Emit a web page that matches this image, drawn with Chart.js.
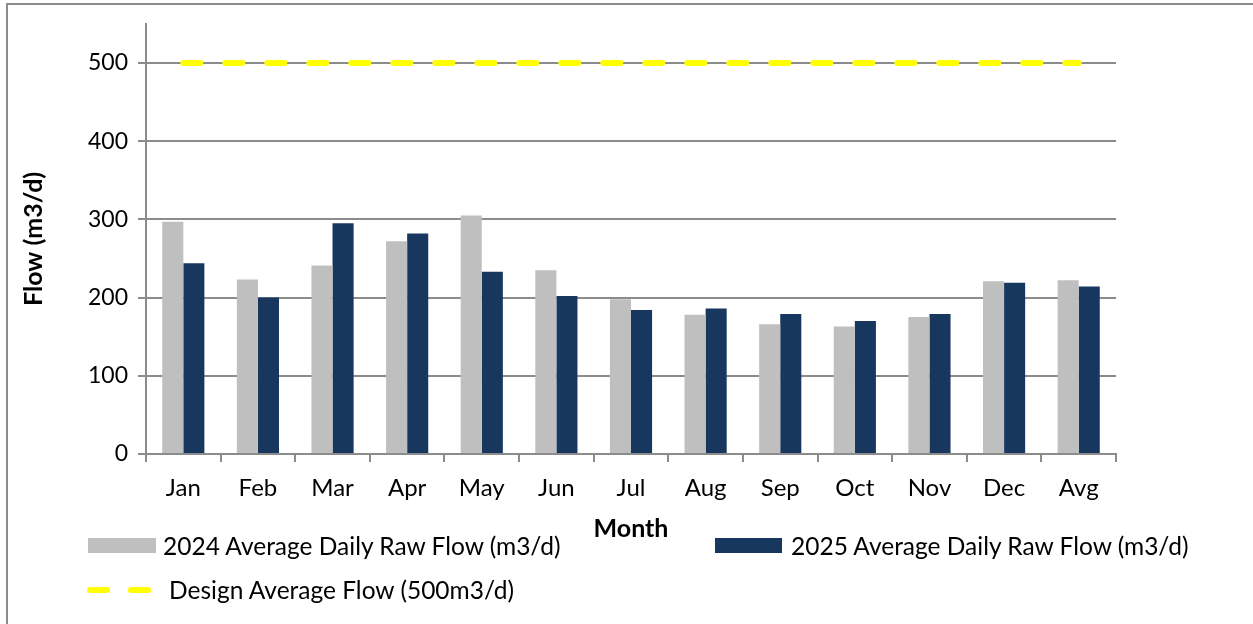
<!DOCTYPE html>
<html>
<head>
<meta charset="utf-8">
<script src="https://cdn.jsdelivr.net/npm/chart.js@4.4.1/dist/chart.umd.min.js"></script>
<style>
  html, body { margin: 0; padding: 0; background: #fff; }
  body { width: 1253px; height: 624px; position: relative; overflow: hidden; font-family: Lato, "Liberation Sans", sans-serif; }
  #frame { position: absolute; left: 6px; top: 3px; width: 1400px; height: 800px; border: 2px solid #8c8c8c; box-sizing: border-box; }
  #wrap { position: absolute; left: 0; top: 0; width: 1253px; height: 624px; }
  .lg { position: absolute; font-size: 24.5px; color: #000; line-height: 30px; white-space: nowrap; }
  .box { position: absolute; height: 15px; }
  .dash { position: absolute; width: 23px; height: 6px; border-radius: 3px; background: #FFFF00; }
</style>
</head>
<body>
<div id="frame"></div>
<div id="wrap"><canvas id="c" width="1253" height="624"></canvas></div>
<div class="box" style="left:88px;top:538px;width:68px;background:#BFBFBF"></div>
<div class="lg" id="l1" style="left:163px;top:531px"></div>
<div class="box" style="left:715px;top:538px;width:67px;background:#17375E"></div>
<div class="lg" id="l2" style="left:791px;top:531px"></div>
<div class="dash" style="left:87px;top:587px"></div>
<div class="dash" style="left:128px;top:587px"></div>
<div class="lg" id="l3" style="left:169px;top:575px"></div>
<script>
const categories = ["Jan","Feb","Mar","Apr","May","Jun","Jul","Aug","Sep","Oct","Nov","Dec","Avg"];
const flow2024 = [297, 223, 241, 272, 305, 235, 198, 178, 166, 163, 175, 221, 222];
const flow2025 = [244, 200, 295, 282, 233, 202, 184, 186, 179, 170, 179, 219, 214];
const designFlow = [500, 500, 500, 500, 500, 500, 500, 500, 500, 500, 500, 500, 500];
const seriesNames = ["2024 Average Daily Raw Flow (m3/d)", "2025 Average Daily Raw Flow (m3/d)", "Design Average Flow (500m3/d)"];
const yTicks = [0, 100, 200, 300, 400, 500];

document.getElementById('l1').textContent = seriesNames[0];
document.getElementById('l2').textContent = seriesNames[1];
document.getElementById('l3').textContent = seriesNames[2];

const FONT = "Lato, 'Liberation Sans', sans-serif";
const GRID = '#8c8c8c';

new Chart(document.getElementById('c'), {
  data: {
    labels: categories,
    datasets: [
      { type: 'line', label: seriesNames[2], data: designFlow, borderColor: '#FFFF00', borderWidth: 6,
        borderDash: [17, 25], borderCapStyle: 'round', pointRadius: 0, fill: false, order: 0 },
      { type: 'bar', label: seriesNames[0], data: flow2024, backgroundColor: '#BFBFBF',
        categoryPercentage: 0.565, barPercentage: 1.0, order: 1 },
      { type: 'bar', label: seriesNames[1], data: flow2025, backgroundColor: '#17375E',
        categoryPercentage: 0.565, barPercentage: 1.0, order: 1 }
    ]
  },
  options: {
    responsive: false,
    animation: false,
    layout: { padding: { left: 0, right: 137, top: 22, bottom: 78 } },
    plugins: { legend: { display: false }, tooltip: { enabled: false } },
    scales: {
      x: {
        offset: true,
        grid: { display: true, drawOnChartArea: false, offset: true, color: GRID, lineWidth: 2, tickLength: 8 },
        border: { color: GRID, width: 2 },
        ticks: { color: '#000', font: { family: FONT, size: 24 }, padding: 12, maxRotation: 0 },
        title: { display: true, text: 'Month', color: '#000', font: { family: FONT, size: 25, weight: 'bold' }, padding: { top: 0, bottom: 2 } },
        afterFit: (s) => { s.height = 92; }
      },
      y: {
        min: 0, max: 550,
        afterBuildTicks: (s) => { s.ticks = yTicks.concat([550]).map(v => ({ value: v })); },
        grid: { color: GRID, lineWidth: 2, tickLength: 8 },
        border: { color: GRID, width: 2 },
        ticks: { color: '#000', font: { family: FONT, size: 23 }, padding: 10,
                 callback: (v) => (yTicks.includes(v) ? String(v) : null) },
        title: { display: true, text: 'Flow (m3/d)', color: '#000', font: { family: FONT, size: 25, weight: 'bold' }, padding: { top: 19, bottom: 0 } },
        afterFit: (s) => { s.width = 146; }
      }
    }
  }
});
</script>
</body>
</html>
